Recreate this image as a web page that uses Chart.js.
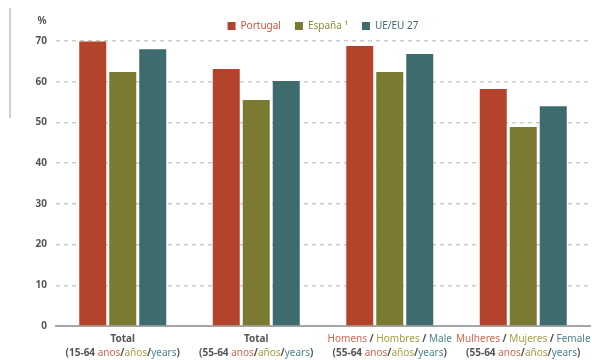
<!DOCTYPE html>
<html>
<head>
<meta charset="utf-8">
<script src="https://cdn.jsdelivr.net/npm/chart.js@4.4.0/dist/chart.umd.min.js"></script>
<style>
    html, body { margin: 0; padding: 0; background: #fff; }
    #wrap { position: relative; width: 592px; height: 360px; }
    #edge { position: absolute; left: 9px; top: 8px; width: 2px; height: 110px; background: #cfcfcf; }
</style>
</head>
<body>
<div id="wrap">
    <div id="edge"></div>
    <canvas id="chart" width="592" height="360"></canvas>
</div>
<script>
const categories = [
    ["Total", "(15-64 anos/años/years)"],
    ["Total", "(55-64 anos/años/years)"],
    ["Homens / Hombres / Male", "(55-64 anos/años/years)"],
    ["Mulheres / Mujeres / Female", "(55-64 anos/años/years)"],
];
const seriesNames = ["Portugal", "España \u00B9", "UE/EU 27"];
const portugal = [69.9, 63.1, 68.8, 58.2];
const espana = [62.4, 55.5, 62.4, 48.9];
const ueEu27 = [68.0, 60.2, 66.8, 54.0];
const yTicks = [0, 10, 20, 30, 40, 50, 60, 70];

const FONT = "'Noto Sans', sans-serif";
const DARK = "#555555";
const barColors = ["#b3432a", "#7b7a31", "#3e6b6e"];
const legendColors = ["#c9553d", "#8d8b3a", "#3e6b6e"];

// words in the x labels take the colour of their language
const wordColors = {
    "anos": "#d0674f", "Homens": "#d0674f", "Mulheres": "#d0674f",
    "años": "#a3a044", "Hombres": "#a3a044", "Mujeres": "#a3a044",
    "years": "#4c8588", "Male": "#4c8588", "Female": "#4c8588",
};

function drawLine(ctx, text, cx, y) {
    const parts = text.split(/(anos|años|years|Homens|Hombres|Male|Mulheres|Mujeres|Female)/).filter(p => p.length);
    const fonts = parts.map(p => (wordColors[p] ? "10px " : "bold 10px ") + FONT);
    let total = 0;
    parts.forEach((p, i) => { ctx.font = fonts[i]; total += ctx.measureText(p).width; });
    let x = cx - total / 2;
    parts.forEach((p, i) => {
        ctx.font = fonts[i];
        ctx.fillStyle = wordColors[p] || DARK;
        ctx.fillText(p, x, y);
        x += ctx.measureText(p).width;
    });
}

const extraText = {
    id: "extraText",
    afterLayout(chart) {
        // centre the legend over the plot area rather than the canvas
        const lg = chart.legend;
        const shift = (chart.chartArea.left + chart.chartArea.right) / 2 - (lg.left + lg.right) / 2;
        lg.left += shift;
        lg.right += shift;
    },
    afterDraw(chart) {
        const ctx = chart.ctx;
        const xs = chart.scales.x;
        ctx.save();
        ctx.textAlign = "left";
        ctx.textBaseline = "middle";
        categories.forEach((lines, i) => {
            const cx = xs.getPixelForValue(i);
            drawLine(ctx, lines[0], cx, 339);
            drawLine(ctx, lines[1], cx, 353);
        });
        ctx.font = "bold 10px " + FONT;
        ctx.fillStyle = DARK;
        ctx.textAlign = "center";
        ctx.fillText("%", 42, 21);
        ctx.restore();
    }
};

const ctx = document.getElementById("chart").getContext("2d");

new Chart(ctx, {
    type: "bar",
    data: {
        labels: categories,
        datasets: [
            { label: seriesNames[0], data: portugal, backgroundColor: barColors[0] },
            { label: seriesNames[1], data: espana, backgroundColor: barColors[1] },
            { label: seriesNames[2], data: ueEu27, backgroundColor: barColors[2] },
        ]
    },
    options: {
        responsive: false,
        devicePixelRatio: 1,
        animation: false,
        layout: { padding: { top: 7, right: 2, bottom: 26, left: 0 } },
        datasets: {
            bar: { categoryPercentage: 0.674, barPercentage: 0.9 }
        },
        plugins: {
            tooltip: { enabled: false },
            legend: {
                position: "top",
                align: "center",
                labels: {
                    boxWidth: 8,
                    boxHeight: 8,
                    padding: 14,
                    font: { family: FONT, size: 10 },
                    generateLabels: (chart) => seriesNames.map((name, i) => ({
                        text: name,
                        fillStyle: barColors[i],
                        strokeStyle: barColors[i],
                        lineWidth: 0,
                        fontColor: legendColors[i],
                        hidden: false,
                        datasetIndex: i,
                    })),
                }
            }
        },
        scales: {
            x: {
                grid: { display: false },
                border: { color: "#a6a6a6", width: 2 },
                ticks: { display: false }
            },
            y: {
                min: 0,
                max: 70,
                afterBuildTicks: (scale) => { scale.ticks = yTicks.map(v => ({ value: v })); },
                afterFit: (scale) => { scale.width = 56; },
                grid: { color: "#cccccc", drawTicks: false, lineWidth: 1.5 },
                border: { display: false, dash: [4, 4] },
                ticks: {
                    padding: 9,
                    color: DARK,
                    font: { family: FONT, size: 10, weight: "bold" }
                }
            }
        }
    },
    plugins: [extraText]
});
</script>
</body>
</html>
